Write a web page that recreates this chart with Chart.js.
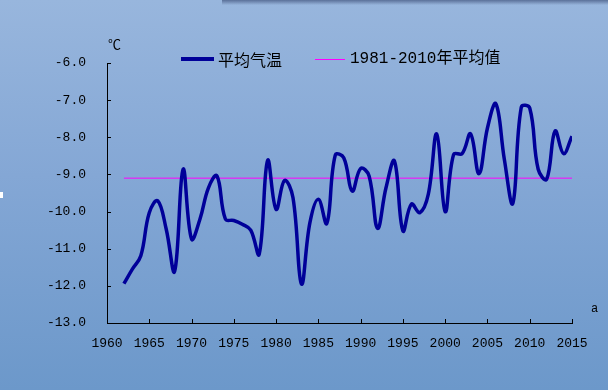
<!DOCTYPE html>
<html>
<head>
<meta charset="utf-8">
<script src="https://cdn.jsdelivr.net/npm/chart.js@4"></script>
<style>
  html, body { margin: 0; padding: 0; }
  body {
    width: 608px; height: 390px; overflow: hidden; position: relative;
    background: linear-gradient(to bottom, #98b6dd 0%, #84a7d5 45%, #6c98ca 100%);
  }
  #wrap { position: absolute; left: 0; top: 0; width: 608px; height: 390px; }
  .abs { position: absolute; white-space: nowrap; color: #000; }
  #shadow {
    position: absolute; left: 222px; top: 0; width: 386px; height: 5px;
    background: linear-gradient(to bottom, rgba(70,90,130,0.75), rgba(70,90,130,0));
  }
  #mark { position: absolute; left: 0; top: 192px; width: 3px; height: 6px; background: #fff; }
</style>
</head>
<body>
<div id="wrap"><canvas id="tempChart" width="608" height="390"></canvas></div>
<div id="shadow"></div>
<div id="mark"></div>
<div class="abs" style="left:108px;top:34px;font:13px 'Noto Sans CJK SC';">℃</div>
<div class="abs" style="left:181px;top:57px;width:33px;height:4px;background:#000099;"></div>
<div class="abs" style="left:218px;top:49px;font:16px 'Noto Sans CJK SC';line-height:20px;">平均气温</div>
<div class="abs" style="left:315px;top:59px;width:30px;height:1px;background:#ff00ff;"></div>
<div class="abs" style="left:350px;top:49px;font:16px 'Liberation Mono','Noto Sans CJK SC';line-height:20px;">1981-2010年平均值</div>
<div class="abs" style="left:591px;top:302px;font:12px 'Liberation Mono';">a</div>
<script>
// 年份与年平均气温
const years = [1962, 1963, 1964, 1965, 1966, 1967, 1968, 1969, 1970, 1971,
  1972, 1973, 1974, 1975, 1976, 1977, 1978, 1979, 1980, 1981,
  1982, 1983, 1984, 1985, 1986, 1987, 1988, 1989, 1990, 1991,
  1992, 1993, 1994, 1995, 1996, 1997, 1998, 1999, 2000, 2001,
  2002, 2003, 2004, 2005, 2006, 2007, 2008, 2009, 2010, 2011,
  2012, 2013, 2014, 2015];
const temps = [-11.94, -11.55, -11.19, -10.03, -9.71, -10.47, -11.61, -8.86, -10.74, -10.2,
  -9.36, -9.04, -10.2, -10.24, -10.34, -10.5, -11.15, -8.62, -9.94, -9.16,
  -9.63, -11.95, -10.3, -9.67, -10.32, -8.48, -8.55, -9.45, -8.84, -9.04,
  -10.45, -9.36, -8.64, -10.52, -9.8, -10.03, -9.54, -7.91, -10.0, -8.46,
  -8.44, -7.91, -8.98, -7.75, -7.1, -8.6, -9.78, -7.19, -7.21, -8.86,
  -9.13, -7.83, -8.44, -7.97];
// 1981-2010年平均值
const normalYears = [1962, 2015];
const normalValue = -9.1;

const xTicks = [1960, 1965, 1970, 1975, 1980, 1985, 1990, 1995, 2000, 2005, 2010, 2015];
const yTicks = [-13, -12, -11, -10, -9, -8, -7, -6];

// 内向刻度线
const innerTicks = {
  id: 'innerTicks',
  afterDraw(chart) {
    const { ctx, chartArea, scales } = chart;
    ctx.save();
    ctx.strokeStyle = '#000';
    ctx.lineWidth = 1;
    ctx.beginPath();
    xTicks.forEach(v => {
      const px = Math.round(scales.x.getPixelForValue(v)) + 0.5;
      ctx.moveTo(px, chartArea.bottom);
      ctx.lineTo(px, chartArea.bottom - 4);
    });
    yTicks.forEach(v => {
      const py = Math.round(scales.y.getPixelForValue(v)) + 0.5;
      ctx.moveTo(chartArea.left, py);
      ctx.lineTo(chartArea.left + 4, py);
    });
    ctx.stroke();
    ctx.restore();
  }
};

const tickFont = { family: 'Liberation Mono', size: 13 };

new Chart(document.getElementById('tempChart'), {
  type: 'line',
  data: {
    datasets: [
      {
        label: '平均气温',
        data: years.map((y, i) => ({ x: y, y: temps[i] })),
        borderColor: '#000099',
        borderWidth: 3.5,
        pointRadius: 0,
        tension: 0.4,
        fill: false,
      },
      {
        label: '1981-2010年平均值',
        data: normalYears.map(y => ({ x: y, y: normalValue })),
        borderColor: '#ff00ff',
        borderWidth: 1,
        pointRadius: 0,
        fill: false,
      },
    ],
  },
  options: {
    responsive: false,
    animation: false,
    layout: { padding: { top: 63, right: 36, bottom: 0, left: 0 } },
    plugins: { legend: { display: false }, tooltip: { enabled: false } },
    scales: {
      x: {
        type: 'linear',
        min: 1960,
        max: 2015,
        afterBuildTicks: s => { s.ticks = xTicks.map(v => ({ value: v })); },
        afterFit: s => { s.height = 67; },
        grid: { drawOnChartArea: false, drawTicks: false },
        border: { color: '#000', width: 1 },
        ticks: { color: '#000', font: tickFont, padding: 13, maxRotation: 0, autoSkip: false,
          callback: v => String(v) },
      },
      y: {
        min: -13,
        max: -6,
        afterBuildTicks: s => { s.ticks = yTicks.map(v => ({ value: v })); },
        afterFit: s => { s.width = 107; },
        grid: { drawOnChartArea: false, drawTicks: false },
        border: { color: '#000', width: 1 },
        ticks: { color: '#000', font: tickFont, padding: 21, callback: v => v.toFixed(1) },
      },
    },
  },
  plugins: [innerTicks],
});
</script>
</body>
</html>
